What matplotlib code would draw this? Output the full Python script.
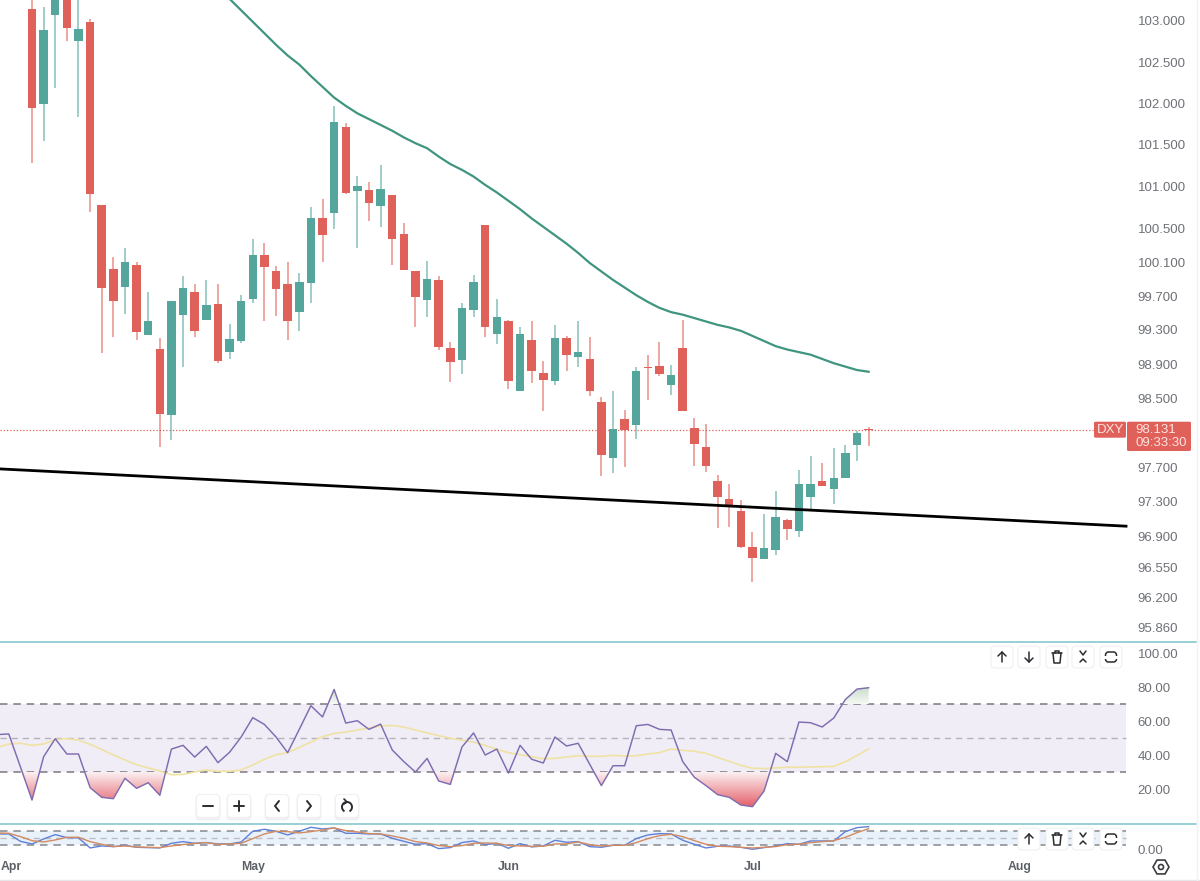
import numpy as np
import matplotlib
matplotlib.use('Agg')
import matplotlib.pyplot as plt
from matplotlib.patches import FancyBboxPatch, Rectangle, RegularPolygon, Circle, Arc
from matplotlib.path import Path
from matplotlib.colors import LinearSegmentedColormap

plt.rcParams['font.family'] = ['Liberation Sans', 'DejaVu Sans']

# daily candles, first one is index 0
opens = [103.15, 101.99, 103.07, 103.45, 102.75, 102.99, 100.78, 100.02, 99.81, 100.07,
         99.24, 99.08, 98.30, 99.48, 99.75, 99.42, 99.61, 99.04, 99.17, 99.66,
         100.18, 100.00, 99.84, 99.51, 99.85, 100.63, 100.69, 101.72, 100.95, 100.96,
         100.77, 100.90, 100.43, 99.99, 99.65, 99.89, 99.09, 98.95, 99.53, 100.54,
         99.25, 99.41, 98.58, 99.18, 98.79, 98.70, 99.20, 98.98, 98.96, 98.46,
         97.81, 98.26, 98.19, 98.87, 98.88, 98.66, 99.09, 98.16, 97.93, 97.54,
         97.33, 97.19, 96.78, 96.64, 96.75, 97.09, 96.96, 97.36, 97.54, 97.45,
         97.58, 97.96, 98.14]
highs = [103.35, 103.17, 103.60, 103.60, 103.60, 103.02, 100.78, 100.16, 100.27, 100.10,
         99.75, 99.21, 99.64, 99.94, 99.84, 99.89, 99.84, 99.37, 99.71, 100.38,
         100.33, 100.06, 100.10, 99.97, 100.76, 100.85, 101.97, 101.76, 101.13, 101.05,
         101.26, 100.90, 100.57, 99.99, 100.12, 99.94, 99.16, 99.62, 99.95, 100.54,
         99.67, 99.42, 99.33, 99.40, 98.94, 99.36, 99.23, 99.40, 99.22, 98.51,
         98.58, 98.36, 98.87, 99.01, 99.16, 98.89, 99.42, 98.27, 98.20, 97.61,
         97.50, 97.32, 96.95, 97.16, 97.43, 97.10, 97.67, 97.83, 97.75, 97.92,
         97.96, 98.12, 98.17]
lows = [101.28, 101.55, 102.19, 102.76, 101.84, 100.70, 99.03, 99.22, 99.49, 99.18,
        99.24, 97.93, 98.02, 98.87, 99.22, 99.42, 98.91, 98.96, 99.15, 99.62,
        99.40, 99.47, 99.18, 99.29, 99.62, 100.10, 100.50, 100.91, 100.27, 100.59,
        100.52, 100.07, 100.01, 99.34, 99.45, 99.06, 98.69, 98.78, 99.45, 99.22,
        99.14, 98.61, 98.58, 98.68, 98.35, 98.66, 98.82, 98.87, 98.53, 97.60,
        97.63, 97.70, 98.03, 98.48, 98.76, 98.54, 98.35, 97.71, 97.65, 97.00,
        97.01, 96.77, 96.38, 96.64, 96.69, 96.86, 96.90, 97.19, 97.48, 97.28,
        97.58, 97.77, 97.94]
closes = [101.94, 102.89, 103.40, 102.91, 102.90, 100.91, 99.79, 99.64, 100.10, 99.28,
          99.40, 98.32, 99.64, 99.79, 99.29, 99.59, 98.94, 99.19, 99.64, 100.18,
          100.04, 99.78, 99.40, 99.87, 100.63, 100.42, 101.77, 100.92, 101.01, 100.80,
          100.97, 100.38, 100.01, 99.69, 99.90, 99.10, 98.93, 99.56, 99.87, 99.33,
          99.45, 98.70, 99.25, 98.82, 98.71, 99.21, 99.01, 99.04, 98.58, 97.84,
          98.14, 98.13, 98.82, 98.85, 98.78, 98.77, 98.35, 97.97, 97.71, 97.35,
          97.25, 96.78, 96.65, 96.77, 97.13, 96.99, 97.51, 97.51, 97.48, 97.58,
          97.86, 98.10, 98.131]

# moving average, starts at candle 17
ma_start = 17
ma_vals = [103.27, 103.13, 102.99, 102.85, 102.71, 102.58, 102.47, 102.33, 102.20, 102.07,
           101.97, 101.88, 101.81, 101.74, 101.67, 101.59, 101.52, 101.46, 101.36, 101.27,
           101.20, 101.12, 101.02, 100.93, 100.83, 100.73, 100.62, 100.52, 100.42, 100.32,
           100.21, 100.09, 99.99, 99.89, 99.80, 99.71, 99.63, 99.56, 99.51, 99.48,
           99.44, 99.40, 99.36, 99.33, 99.29, 99.23, 99.17, 99.11, 99.07, 99.04,
           99.01, 98.96, 98.91, 98.87, 98.83, 98.81]

# hand drawn trend line
trend_x = [-2.75, 94.15]
trend_y = [97.68, 97.02]
last_price = 98.131

price_ticks = [103.0, 102.5, 102.0, 101.5, 101.0, 100.5, 100.1, 99.7, 99.3, 98.9, 98.5,
               97.7, 97.3, 96.9, 96.55, 96.2, 95.86]
price_labels = ['103.000', '102.500', '102.000', '101.500', '101.000', '100.500', '100.100',
                '99.700', '99.300', '98.900', '98.500', '97.700', '97.300', '96.900',
                '96.550', '96.200', '95.860']

# indicators start 3 bars before candle 0
ind_start = -3
rsi = [52.0, 52.4, 33.1, 13.5, 39.0, 49.6, 40.6, 40.6, 20.8, 15.1,
       14.3, 26.3, 20.4, 23.7, 16.3, 43.5, 45.7, 38.8, 45.1, 35.5,
       41.6, 50.6, 62.0, 58.0, 50.6, 41.4, 55.1, 69.0, 62.4, 78.6,
       58.8, 60.2, 55.1, 58.2, 43.0, 36.1, 30.0, 38.0, 24.7, 22.7,
       44.7, 53.0, 40.0, 43.5, 29.4, 45.7, 37.5, 35.3, 50.6, 45.3,
       46.9, 34.5, 22.0, 33.7, 33.7, 57.2, 58.0, 55.1, 54.7, 36.1,
       26.9, 22.0, 16.7, 15.1, 10.6, 9.6, 18.8, 41.0, 36.1, 59.4,
       59.0, 56.5, 61.8, 72.7, 78.8, 79.6]
rsi_ma = [44.5, 46.5, 46.9, 45.7, 46.5, 49.0, 49.6, 48.8, 46.3, 43.3,
          40.0, 37.1, 34.3, 32.4, 30.6, 28.4, 28.6, 30.0, 31.2, 30.4,
          30.4, 31.2, 34.1, 37.5, 40.2, 41.4, 44.5, 47.6, 50.8, 52.7,
          53.5, 54.7, 55.9, 57.1, 57.4, 56.5, 54.7, 53.0, 51.4, 49.8,
          48.8, 47.6, 45.7, 43.3, 41.4, 40.2, 39.0, 37.8, 38.0, 38.8,
          39.6, 39.2, 39.2, 39.8, 39.4, 39.6, 40.6, 41.4, 43.5, 42.8,
          42.2, 41.0, 38.6, 36.3, 33.9, 32.2, 32.0, 32.4, 32.8, 32.8,
          33.0, 33.1, 33.3, 36.1, 39.6, 43.7]
stoch_k = [66.3, 66.3, 35.6, 24.5, 45.4, 63.5, 51.0, 49.6, 7.7, 16.1,
           13.3, 18.9, 10.5, 9.1, 7.7, 27.2, 34.2, 27.2, 30.1, 24.5,
           24.5, 32.8, 77.5, 85.8, 77.5, 62.1, 77.5, 94.2, 87.2, 91.4,
           69.1, 69.1, 66.3, 66.3, 48.2, 35.6, 23.1, 25.8, 4.9, 9.1,
           30.1, 37.0, 21.7, 27.2, 6.3, 25.8, 11.9, 16.1, 39.8, 31.5,
           34.2, 13.3, 10.5, 18.9, 18.9, 46.8, 62.1, 67.7, 66.3, 39.8,
           23.1, 7.7, 14.7, 16.1, 10.5, 2.1, 9.1, 16.1, 25.8, 23.1,
           37.0, 37.0, 37.0, 76.1, 92.8, 97.0]
stoch_d = [70.5, 69.1, 55.2, 38.4, 32.8, 41.2, 52.4, 52.4, 34.2, 23.1,
           13.3, 16.1, 11.9, 10.5, 9.1, 16.1, 21.7, 27.2, 30.1, 23.1,
           24.5, 27.2, 46.8, 66.3, 77.5, 76.1, 70.5, 76.1, 83.0, 91.4,
           80.3, 74.7, 67.7, 66.3, 57.9, 48.2, 34.2, 28.6, 17.5, 13.3,
           17.5, 27.2, 28.6, 27.2, 17.5, 16.1, 14.7, 14.7, 24.5, 24.5,
           32.8, 21.7, 16.1, 18.9, 18.9, 30.1, 46.8, 59.3, 64.9, 55.2,
           38.4, 23.1, 14.7, 13.3, 10.5, 7.7, 10.5, 13.3, 21.7, 23.1,
           30.1, 34.2, 38.4, 52.4, 71.9, 88.6]

rsi_ticks = [100, 80, 60, 40, 20]
month_pos = [-1.8, 19, 41, 62, 85]
month_names = ['Apr', 'May', 'Jun', 'Jul', 'Aug']

RED = '#e0605a'
GREEN = '#54a69c'
W, H = 1200, 881
XMIN, XMAX = -2.754, 94.49
BAND_END = 94.15


def axes_px(fig, left, top, right, bottom):
    return fig.add_axes([left / W, 1 - bottom / H, (right - left) / W, (bottom - top) / H])


def clean(ax):
    for s in ax.spines.values():
        s.set_visible(False)
    ax.set_xlim(XMIN, XMAX)
    ax.set_xticks([])
    ax.yaxis.tick_right()
    ax.tick_params(axis='y', length=0, pad=5.5, labelsize=9.5, labelcolor='#6e7177')
    ax.minorticks_off()


fig = plt.figure(figsize=(W / 100, H / 100), dpi=100)

# main price panel
ax = axes_px(fig, 0, 0, 1130, 641)
ax.set_yscale('log')
idx = np.arange(len(opens))
o, h, l, c = map(np.array, (opens, highs, lows, closes))
cols = [GREEN if c[i] > o[i] else RED for i in idx]
ax.vlines(idx, l, h, colors=cols, lw=1.1, alpha=0.7, zorder=2)
tops = np.maximum(o, c)
bots = np.minimum(o, c)
ax.bar(idx, tops - bots, bottom=bots, width=0.73, color=cols, linewidth=0, zorder=3)
ax.plot(np.arange(len(ma_vals)) + ma_start, ma_vals, color='#3f9580', lw=1.6, zorder=4)
ax.plot(trend_x, trend_y, color='black', lw=2, zorder=5)
ax.plot([XMIN, 91.3], [last_price, last_price], color=RED, lw=0.9, ls=(0, (1, 1.6)), zorder=1)
ax.set_ylim(95.71, 103.256)
clean(ax)
ax.set_yticks(price_ticks)
ax.set_yticklabels(price_labels)
ax.yaxis.set_minor_locator(matplotlib.ticker.NullLocator())

# rsi panel
ax2 = axes_px(fig, 0, 642, 1130, 823)
ind_x = np.arange(len(rsi)) + ind_start
rsi_arr = np.array(rsi)
ax2.fill_between([XMIN, BAND_END], 30, 70, color='#f0edf7', lw=0, zorder=1)
ax2.plot([XMIN, BAND_END], [70, 70], color='#85828c', lw=1.2, ls=(0, (4.5, 3.5)), zorder=2)
ax2.plot([XMIN, BAND_END], [50, 50], color='#b4b2ba', lw=1.0, ls=(0, (4.5, 3.5)), zorder=2)
ax2.plot([XMIN, BAND_END], [30, 30], color='#85828c', lw=1.2, ls=(0, (4.5, 3.5)), zorder=2)

# gradient under/over the bands, clipped to the crossing regions
low_poly = ax2.fill_between(ind_x, rsi_arr, 30, where=rsi_arr < 30, interpolate=True, alpha=0)
high_poly = ax2.fill_between(ind_x, rsi_arr, 70, where=rsi_arr > 70, interpolate=True, alpha=0)
red_map = LinearSegmentedColormap.from_list('r', ['#fbf0f1', '#e4606a'])
green_map = LinearSegmentedColormap.from_list('g', ['#f6faf5', '#c9dcc9'])
grad = np.linspace(0, 1, 64).reshape(-1, 1)
im1 = ax2.imshow(grad, cmap=red_map, extent=[XMIN, XMAX, 9.5, 30], origin='upper', aspect='auto', zorder=3)
im1.set_clip_path(Path.make_compound_path(*low_poly.get_paths()), ax2.transData)
im2 = ax2.imshow(grad, cmap=green_map, extent=[XMIN, XMAX, 80, 70], origin='upper', aspect='auto', zorder=3)
im2.set_clip_path(Path.make_compound_path(*high_poly.get_paths()), ax2.transData)

ax2.plot(ind_x, rsi_ma, color='#efe2a2', lw=1.2, zorder=4)
ax2.plot(ind_x, rsi, color='#7f6cb0', lw=1.05, zorder=5)
ax2.set_ylim(0, 106.5)
clean(ax2)
ax2.set_yticks(rsi_ticks)
ax2.set_yticklabels(['%.2f' % t for t in rsi_ticks])

# stochastic panel
ax3 = axes_px(fig, 0, 824, 1130, 856)
ax3.fill_between([XMIN, BAND_END], 20, 80, color='#e9f2fb', lw=0, zorder=1)
ax3.plot([XMIN, BAND_END], [80, 80], color='#8f9196', lw=1.2, ls=(0, (4.5, 3.5)), zorder=2)
ax3.plot([XMIN, BAND_END], [50, 50], color='#bcbec3', lw=1.0, ls=(0, (4.5, 3.5)), zorder=2)
ax3.plot([XMIN, BAND_END], [20, 20], color='#8f9196', lw=1.2, ls=(0, (4.5, 3.5)), zorder=2)
ax3.plot(ind_x, stoch_k, color='#5f80d8', lw=1.0, zorder=3)
ax3.plot(ind_x, stoch_d, color='#d48a60', lw=1.0, zorder=4)
ax3.set_ylim(-26, 108)
clean(ax3)
ax3.set_yticks([0])
ax3.set_yticklabels(['0.00'])

# month labels under the bottom panel
for pos, name in zip(month_pos, month_names):
    ax3.annotate(name, xy=(pos, 0), xycoords=ax3.get_xaxis_transform(), xytext=(0, -11),
                 textcoords='offset pixels', ha='center', va='center', fontsize=8.8,
                 fontweight='bold', color='#5c6066', annotation_clip=False)

# chrome on top, in pixel coordinates
ui = fig.add_axes([0, 0, 1, 1], zorder=10)
ui.set_xlim(0, W)
ui.set_ylim(H, 0)
ui.axis('off')
ui.patch.set_alpha(0)

ui.plot([0, 1196], [641.5, 641.5], color='#7cc3cc', lw=1.1)
ui.plot([0, 1196], [823.5, 823.5], color='#7cc3cc', lw=1.1)
ui.plot([0, 1200], [880, 880], color='#e6e6e8', lw=1)
ui.plot([1197, 1197], [0, 880], color='#f2f2f3', lw=1)


def button(cx, cy, size=22, shadow=False):
    if shadow:
        ui.add_patch(FancyBboxPatch((cx - size / 2 - 1, cy - size / 2 + 1), size + 2, size + 2,
                                    boxstyle='round,pad=0,rounding_size=4', fc='#e6e6e8',
                                    ec='none', alpha=0.6, zorder=20))
    ui.add_patch(FancyBboxPatch((cx - size / 2, cy - size / 2), size, size,
                                boxstyle='round,pad=0,rounding_size=4', fc='white',
                                ec='#f0f0f2', lw=0.8, zorder=21))


def line(xs, ys, lw=1.1, color='#2a2c30'):
    ui.plot(xs, ys, color=color, lw=lw, solid_capstyle='round', zorder=22)


def arrow_up(cx, cy):
    line([cx, cx], [cy - 5, cy + 5])
    line([cx - 4, cx, cx + 4], [cy - 1, cy - 5, cy - 1])


def arrow_down(cx, cy):
    line([cx, cx], [cy - 5, cy + 5])
    line([cx - 4, cx, cx + 4], [cy + 1, cy + 5, cy + 1])


def trash(cx, cy):
    line([cx - 5, cx + 5], [cy - 4, cy - 4])
    line([cx - 2, cx - 2, cx + 2, cx + 2], [cy - 4, cy - 6, cy - 6, cy - 4])
    line([cx - 4, cx - 3, cx + 3, cx + 4], [cy - 4, cy + 6, cy + 6, cy - 4])


def collapse(cx, cy):
    line([cx - 3, cx, cx + 3], [cy - 6, cy - 2, cy - 6])
    line([cx - 3, cx, cx + 3], [cy + 5, cy + 2, cy + 5])


def corners(cx, cy):
    ui.add_patch(FancyBboxPatch((cx - 5.5, cy - 5), 11, 10, boxstyle='round,pad=0,rounding_size=3',
                                fc='none', ec='#2a2c30', lw=1.1, zorder=22))
    ui.add_patch(Rectangle((cx - 7, cy - 1.5), 14, 3, fc='white', ec='none', zorder=23))


for cx in [1002, 1029, 1057, 1083, 1111]:
    button(cx, 657)
arrow_up(1002, 657)
arrow_down(1029, 657)
trash(1057, 657)
collapse(1083, 657)
corners(1111, 657)

for cx in [1029, 1057, 1083, 1111]:
    button(cx, 839)
arrow_up(1029, 839)
trash(1057, 839)
collapse(1083, 839)
corners(1111, 839)

for cx in [208, 239, 277, 309, 347]:
    button(cx, 806, size=23, shadow=True)
line([203, 213], [806, 806], lw=1.4)
line([234, 244], [806, 806], lw=1.4)
line([239, 239], [801, 811], lw=1.4)
line([279, 275, 279], [801, 806, 811], lw=1.4)
line([307, 311, 307], [801, 806, 811], lw=1.4)
ui.add_patch(Arc((347, 807), 10, 10, theta1=-240, theta2=60, color='#2a2c30', lw=1.4, zorder=22))
line([344, 347, 344], [799, 802, 804], lw=1.2)

# last price tags
ui.add_patch(FancyBboxPatch((1094, 421.7), 32, 16, boxstyle='round,pad=0,rounding_size=1.5',
                            fc=RED, ec='none', zorder=20))
ui.add_patch(FancyBboxPatch((1127, 421.7), 64, 29.3, boxstyle='round,pad=0,rounding_size=1.5',
                            fc=RED, ec='none', zorder=20))
tag_col = '#fce3e0'
ui.text(1110, 430, 'DXY', color=tag_col, fontsize=9.5, ha='center', va='center', zorder=21)
ui.text(1135.7, 429.7, '98.131', color=tag_col, fontsize=9.5, ha='left', va='center', zorder=21)
ui.text(1135.7, 443, '09:33:30', color=tag_col, fontsize=9.5, ha='left', va='center', zorder=21)

# settings icon
ui.add_patch(RegularPolygon((1161, 867), 6, radius=8, fc='none', ec='#3a3c40', lw=1.2, zorder=21,
                            orientation=np.pi / 6))
ui.add_patch(Circle((1161, 867), 2.5, fc='none', ec='#3a3c40', lw=1.2, zorder=21))

fig.savefig('out.png', dpi=100, facecolor='white')
